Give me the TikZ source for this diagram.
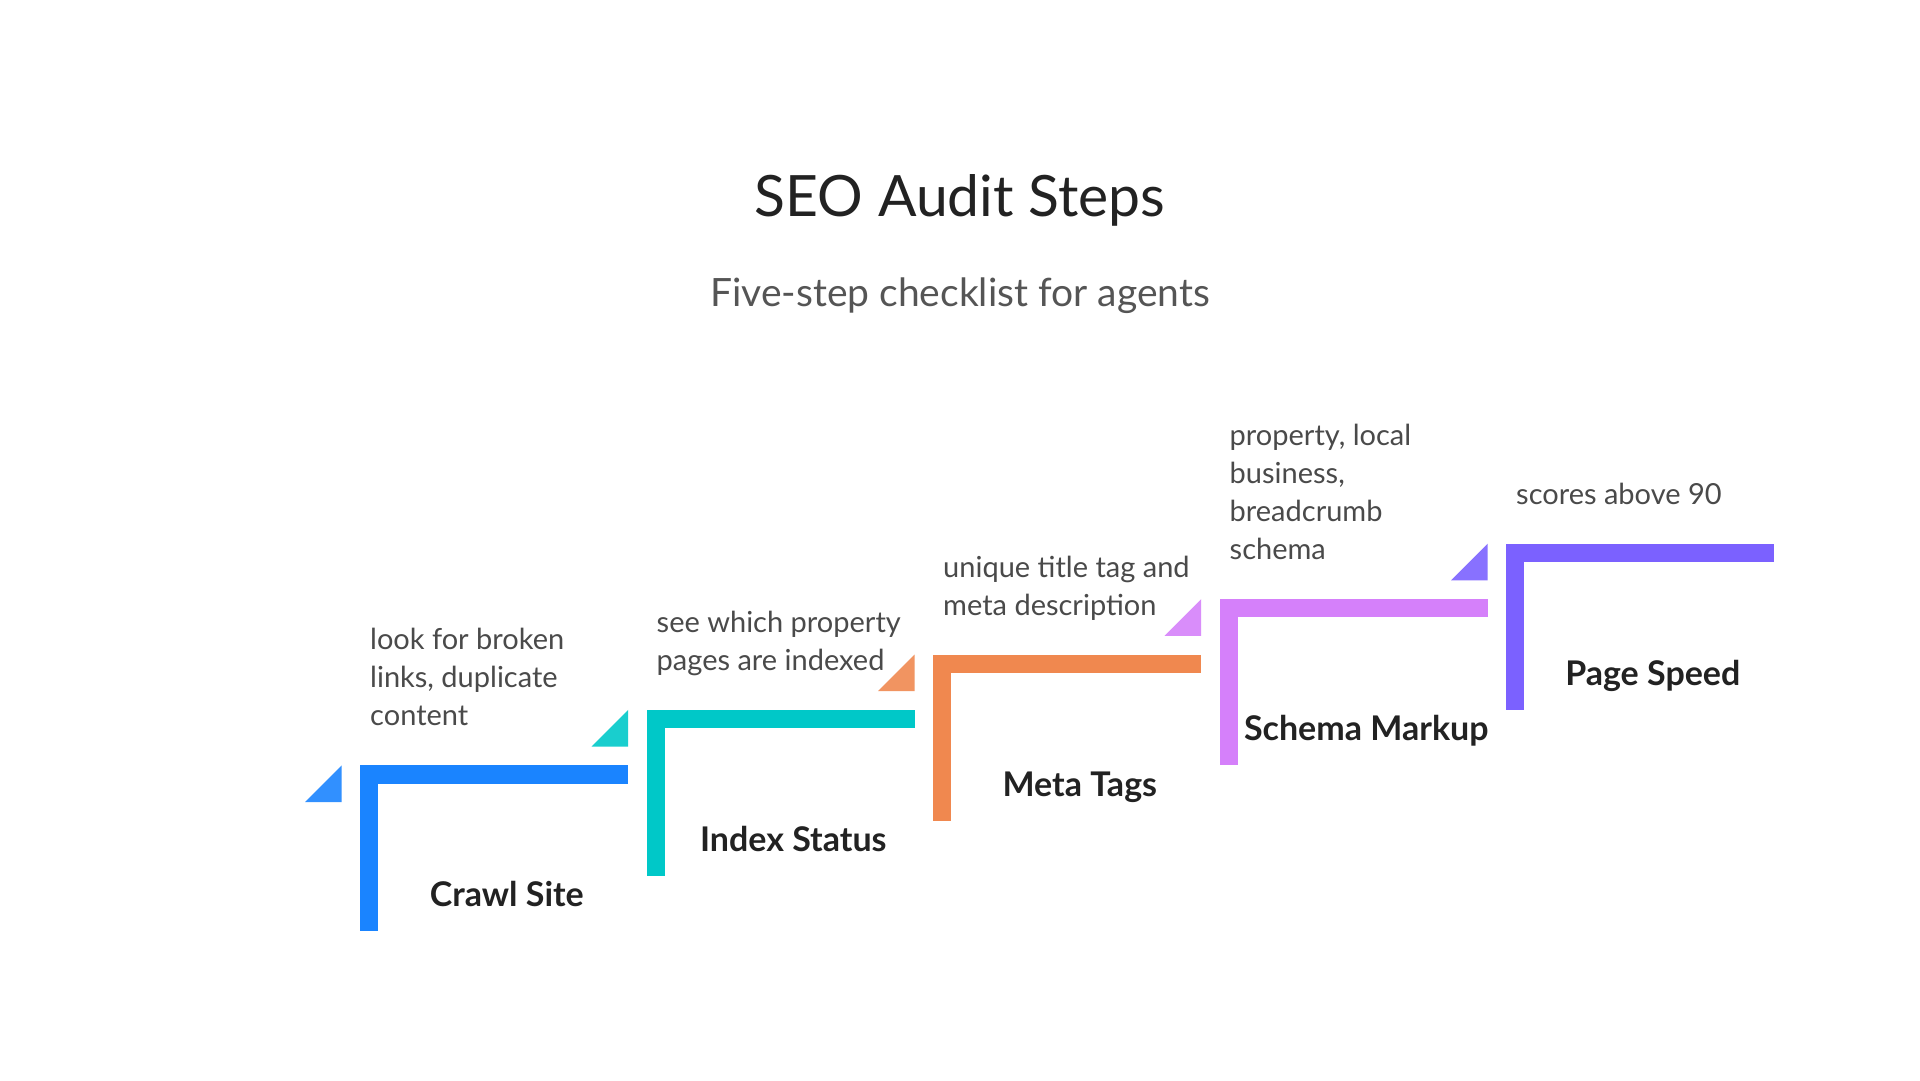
\documentclass[tikz,border=0pt]{standalone}
\usepackage{fontspec}
\setmainfont{Lato}
\definecolor{cblue}{HTML}{1A84FF}
\definecolor{cteal}{HTML}{00C8C8}
\definecolor{corange}{HTML}{F0884F}
\definecolor{cpink}{HTML}{D580FA}
\definecolor{cpurple}{HTML}{7B61FF}
\definecolor{ctitle}{HTML}{222222}
\definecolor{csub}{HTML}{555555}
\definecolor{cdesc}{HTML}{4A4A4A}
\tikzset{
  lab/.style={anchor=base, inner sep=0pt, text=ctitle, font=\fontsize{34}{40}\selectfont\bfseries},
  desc/.style={anchor=base west, align=left, inner sep=0pt, text=cdesc, font=\fontsize{29}{38}\selectfont},
}
\newcommand\stepitem[4]{%
  \pgfmathsetmacro\Lx{360+286.5*#1}%
  \pgfmathsetmacro\Ty{765.3-55.4*#1}%
  \fill[#2] (\Lx,\Ty) rectangle ++(268,18.3);
  \fill[#2] (\Lx,\Ty) rectangle ++(18.3,166);
  \fill[#2!90!white] (\Lx-18.3,\Ty) -- ++(0,36.7) -- ++(-36.7,0) -- cycle;
  \node[lab] (lab#1) at (\Lx+18.3+124.5+4,\Ty+141.5) {#3};
  \node[desc] (desc#1) at (\Lx+10,\Ty-39.5) {#4};
}
\begin{document}
\begin{tikzpicture}[x=1pt,y=-1pt]
\useasboundingbox (0,0) rectangle (1920,1080);
\fill[white] (0,0) rectangle (1920,1080);
\node[anchor=base, inner sep=0pt, text=ctitle, font=\fontsize{57}{64}\selectfont] (title) at (960,216.7) {SEO Audit Steps};
\node[anchor=base, inner sep=0pt, text=csub, font=\fontsize{39}{44}\selectfont] (subtitle) at (960,306) {Five-step checklist for agents};
\stepitem{0}{cblue}{Crawl Site}{look for broken\\links, duplicate\\content}
\stepitem{1}{cteal}{Index Status}{see which property\\pages are indexed}
\stepitem{2}{corange}{Meta Tags}{unique title tag and\\meta description}
\stepitem{3}{cpink}{Schema Markup}{property, local\\business,\\breadcrumb\\schema}
\stepitem{4}{cpurple}{Page Speed}{scores above 90}
\end{tikzpicture}
\end{document}
